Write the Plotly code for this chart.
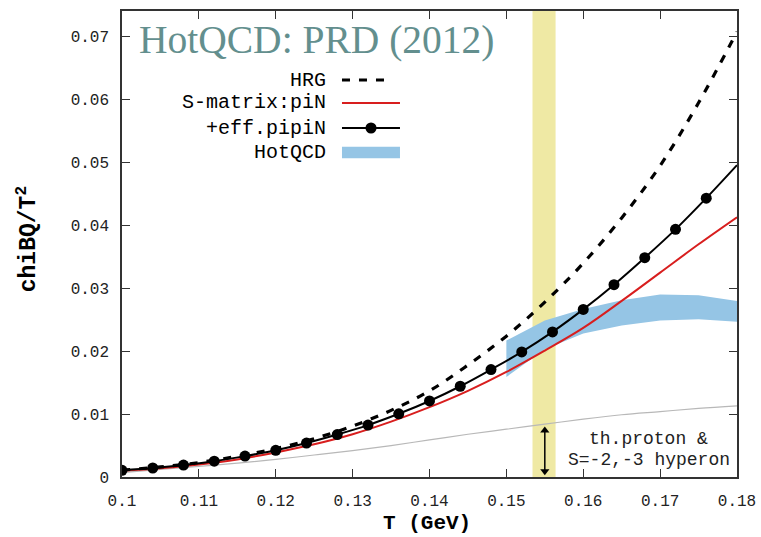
import plotly.graph_objects as go

# ---------------- data ----------------
T_GRID = [0.100, 0.105, 0.110, 0.115, 0.120, 0.125, 0.130, 0.135, 0.140,
          0.145, 0.150, 0.155, 0.160, 0.165, 0.170, 0.175, 0.180]
CHI_HRG = [0.0011, 0.0016, 0.0023, 0.0033, 0.0045, 0.0061, 0.0081, 0.0106, 0.0137,
           0.0178, 0.0224, 0.0278, 0.0340, 0.0412, 0.0495, 0.0595, 0.0708]
CHI_SMAT = [0.0010, 0.0014, 0.0020, 0.0028, 0.0039, 0.0052, 0.0068, 0.0088, 0.0111,
            0.0137, 0.0167, 0.0201, 0.0237, 0.0280, 0.0325, 0.0370, 0.0413]

T_EFF = [0.100, 0.104, 0.108, 0.112, 0.116, 0.120, 0.124, 0.128, 0.132, 0.136,
         0.140, 0.144, 0.148, 0.152, 0.156, 0.160, 0.164, 0.168, 0.172, 0.176, 0.180]
CHI_EFF = [0.00107, 0.00143, 0.00190, 0.00252, 0.00332, 0.00425, 0.00540, 0.00675,
           0.00825, 0.01005, 0.01209, 0.01443, 0.01708, 0.01989, 0.02307, 0.02665,
           0.03058, 0.03487, 0.03938, 0.04434, 0.04959]
N_DOTS = 20  # markers drawn on the first 20 points

T_LQCD = [0.150, 0.155, 0.160, 0.165, 0.170, 0.175, 0.180]
LQCD_UP = [0.0217, 0.0249, 0.0267, 0.0281, 0.0290, 0.0289, 0.0280]
LQCD_LO = [0.0159, 0.0203, 0.0228, 0.0241, 0.0249, 0.0251, 0.0247]

T_GRAY = [0.100, 0.105, 0.110, 0.115, 0.120, 0.125, 0.130, 0.135, 0.140,
          0.145, 0.150, 0.155, 0.160, 0.165, 0.170, 0.175, 0.180]
CHI_GRAY = [0.0007, 0.0012, 0.0017, 0.0022, 0.0028, 0.0035, 0.0042, 0.0050, 0.0059,
            0.0068, 0.0076, 0.0084, 0.0092, 0.0099, 0.0104, 0.0109, 0.0113]

TC_BAND = [0.1534, 0.1564]
ARROW_T = [0.1550, 0.1550]
ARROW_Y = [0.0009, 0.0074]

X_TICKS = [0.10, 0.11, 0.12, 0.13, 0.14, 0.15, 0.16, 0.17, 0.18]
X_TICKTEXT = ["0.1", "0.11", "0.12", "0.13", "0.14", "0.15", "0.16", "0.17", "0.18"]
Y_TICKS = [0, 0.01, 0.02, 0.03, 0.04, 0.05, 0.06, 0.07]
Y_TICKTEXT = ["0", "0.01", "0.02", "0.03", "0.04", "0.05", "0.06", "0.07"]
X_RANGE = [0.1, 0.18]
Y_RANGE = [0, 0.0741]

LEGEND_LABELS = ["HRG", "S-matrix:piN", "+eff.pipiN", "HotQCD"]
TITLE_TEXT = "HotQCD: PRD (2012)"
NOTE_LINES = ["th.proton &", "S=-2,-3 hyperon"]
X_TITLE = "<b>T (GeV)</b>"
Y_TITLE = "<b>chiBQ/T<sup>2</sup></b>"

# ---------------- styles ----------------
MONO = "Liberation Mono, Courier New, monospace"
RED = "#d81e1e"
BLUE = "#95c5e5"
YELLOW = "#efe9a4"
GRAY = "#b8b8b8"
AXIS = "#333333"
HRG_DASH = "8px,9px"

fig = go.Figure()

fig.add_vrect(x0=TC_BAND[0], x1=TC_BAND[1], fillcolor=YELLOW, line_width=0,
              layer="below", opacity=1)

fig.add_trace(go.Scatter(
    x=T_LQCD + T_LQCD[::-1], y=LQCD_UP + LQCD_LO[::-1],
    fill="toself", fillcolor=BLUE, line=dict(width=0), mode="lines",
    hoverinfo="skip", showlegend=False))

fig.add_trace(go.Scatter(x=T_GRAY, y=CHI_GRAY, mode="lines",
                         line=dict(color=GRAY, width=1.2, shape="spline"),
                         showlegend=False))

fig.add_trace(go.Scatter(x=T_GRID, y=CHI_SMAT, mode="lines",
                         line=dict(color=RED, width=2, shape="spline"),
                         showlegend=False))

fig.add_trace(go.Scatter(x=T_EFF, y=CHI_EFF, mode="lines",
                         line=dict(color="black", width=2, shape="spline"),
                         showlegend=False))
fig.add_trace(go.Scatter(x=T_EFF[:N_DOTS], y=CHI_EFF[:N_DOTS], mode="markers",
                         marker=dict(color="black", size=11),
                         showlegend=False))

fig.add_trace(go.Scatter(x=T_GRID, y=CHI_HRG, mode="lines",
                         line=dict(color="black", width=3.2, shape="spline",
                                   dash=HRG_DASH),
                         showlegend=False))

# double-headed arrow (line + triangle heads)
fig.add_trace(go.Scatter(x=ARROW_T, y=ARROW_Y, mode="lines+markers",
                         line=dict(color="black", width=1.5),
                         marker=dict(symbol=["triangle-down", "triangle-up"],
                                     size=8, color="black"),
                         showlegend=False, hoverinfo="skip"))

# note text
fig.add_annotation(x=0.8555, y=0.0820, xref="paper", yref="paper",
                   text=NOTE_LINES[0], showarrow=False, xanchor="center",
                   yanchor="middle", font=dict(family=MONO, size=18, color="#222"))
fig.add_annotation(x=0.8564, y=0.0375, xref="paper", yref="paper",
                   text=NOTE_LINES[1], showarrow=False, xanchor="center",
                   yanchor="middle", font=dict(family=MONO, size=18, color="#222"))

# title
fig.add_annotation(x=0.0244, y=0.938, xref="paper", yref="paper",
                   text=TITLE_TEXT, showarrow=False, xanchor="left",
                   yanchor="middle",
                   font=dict(family="Liberation Serif, serif", size=39.5, color="#638f8e"))

# axis titles
fig.add_annotation(x=0.496, y=-0.0995, xref="paper", yref="paper", text=X_TITLE,
                   showarrow=False, xanchor="center", yanchor="middle",
                   font=dict(family=MONO, size=21, color="black"))
fig.add_annotation(x=-0.153, y=0.51, xref="paper", yref="paper", text=Y_TITLE,
                   showarrow=False, xanchor="center", yanchor="middle",
                   textangle=-90, font=dict(family=MONO, size=23, color="black"))

# custom gnuplot-style legend (text left, sample right)
ROWS = [0.8519, 0.8026, 0.7489, 0.6974]
TX = 0.3350
SX0, SX1, DOTX = 0.3577, 0.4520, 0.4049
for lab, yy in zip(LEGEND_LABELS, ROWS):
    fig.add_annotation(x=TX, y=yy, xref="paper", yref="paper", text=lab,
                       showarrow=False, xanchor="right", yanchor="middle",
                       font=dict(family=MONO, size=20, color="black"))
fig.add_shape(type="line", xref="paper", yref="paper", x0=SX0, x1=SX1 - 0.015,
              y0=ROWS[0], y1=ROWS[0], line=dict(color="black", width=3.2, dash=HRG_DASH))
fig.add_shape(type="line", xref="paper", yref="paper", x0=SX0, x1=SX1,
              y0=ROWS[1], y1=ROWS[1], line=dict(color=RED, width=2))
fig.add_shape(type="line", xref="paper", yref="paper", x0=SX0, x1=SX1,
              y0=ROWS[2], y1=ROWS[2], line=dict(color="black", width=2))
fig.add_shape(type="circle", xref="paper", yref="paper", x0=DOTX - 0.009,
              x1=DOTX + 0.009, y0=ROWS[2] - 0.0118, y1=ROWS[2] + 0.0118,
              fillcolor="black", line=dict(width=0))
fig.add_shape(type="rect", xref="paper", yref="paper", x0=SX0, x1=SX1,
              y0=0.6839, y1=0.7088, fillcolor=BLUE, line=dict(width=0))

axis_common = dict(showline=True, linecolor=AXIS, linewidth=1.5, mirror="ticks",
                   ticks="inside", ticklen=8, tickwidth=1.2, tickcolor=AXIS,
                   showgrid=False, zeroline=False, automargin=False,
                   tickfont=dict(family=MONO, size=16, color="#222"))

fig.update_xaxes(range=X_RANGE, tickvals=X_TICKS, ticktext=X_TICKTEXT,
                 ticklabelstandoff=8, **axis_common)
fig.update_yaxes(range=Y_RANGE, tickvals=Y_TICKS, ticktext=Y_TICKTEXT,
                 ticklabelstandoff=8, **axis_common)

fig.update_layout(width=761, height=537, margin=dict(l=122, r=24, t=11, b=60),
                  paper_bgcolor="white", plot_bgcolor="white", showlegend=False)

fig.write_html("out.html")
